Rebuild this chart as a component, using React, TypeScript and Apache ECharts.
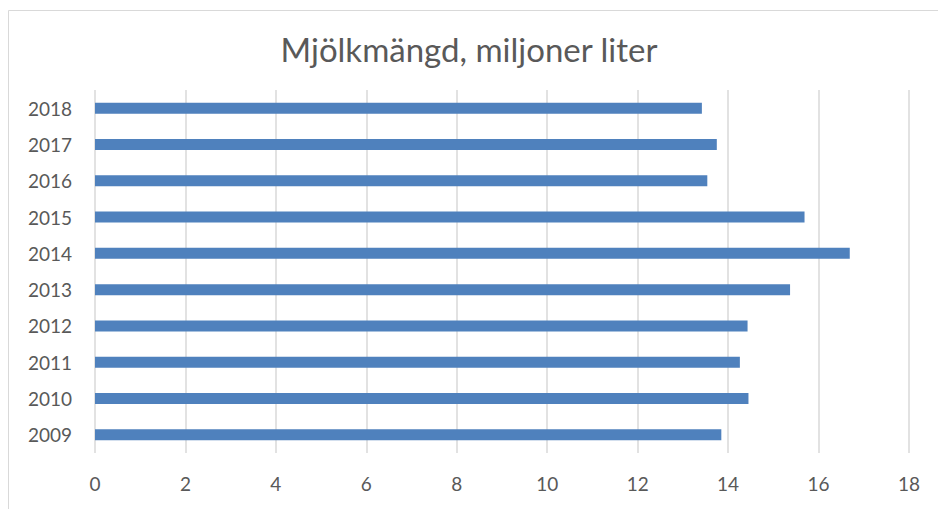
import React, { useEffect, useRef } from "react";
import * as echarts from "echarts";

const titleText = "Mjölkmängd, miljoner liter";
const years = ["2009", "2010", "2011", "2012", "2013", "2014", "2015", "2016", "2017", "2018"];
const milk = [13.85, 14.45, 14.26, 14.43, 15.37, 16.69, 15.69, 13.54, 13.75, 13.42];

export default function App() {
  const ref = useRef<HTMLDivElement>(null);
  useEffect(() => {
    if (!ref.current) return;
    const chart = echarts.init(ref.current, undefined, { renderer: "svg" });
    const font = "Lato, 'Open Sans', sans-serif";
    chart.setOption({
      animation: false,
      backgroundColor: "#ffffff",
      title: {
        text: titleText,
        left: "center",
        top: 27,
        textStyle: { fontFamily: font, fontSize: 33, fontWeight: "normal", color: "#595959" },
      },
      graphic: [
        {
          type: "rect",
          shape: { x: 8.5, y: 10.5, width: 940, height: 520 },
          style: { fill: "none", stroke: "#d9d9d9", lineWidth: 1 },
          silent: true,
        },
      ],
      grid: { left: 95, right: 29, top: 90, bottom: 56, containLabel: false },
      xAxis: {
        type: "value",
        min: 0,
        max: 18,
        interval: 2,
        axisLine: { show: false },
        axisTick: { show: false },
        splitLine: { show: true, lineStyle: { color: "#d9d9d9", width: 1.5 } },
        axisLabel: { fontFamily: font, fontSize: 19, color: "#595959", margin: 21 },
      },
      yAxis: {
        type: "category",
        data: years,
        axisLine: { show: false },
        axisTick: { show: false },
        axisLabel: { fontFamily: font, fontSize: 19, color: "#595959", margin: 23 },
      },
      series: [
        {
          type: "bar",
          data: milk,
          barWidth: 11,
          itemStyle: { color: "#4f81bd" },
        },
      ],
    });
    return () => chart.dispose();
  }, []);
  return (
    <div
      ref={ref}
      style={{ position: "fixed", left: 0, top: 0, width: 938, height: 509 }}
    />
  );
}
